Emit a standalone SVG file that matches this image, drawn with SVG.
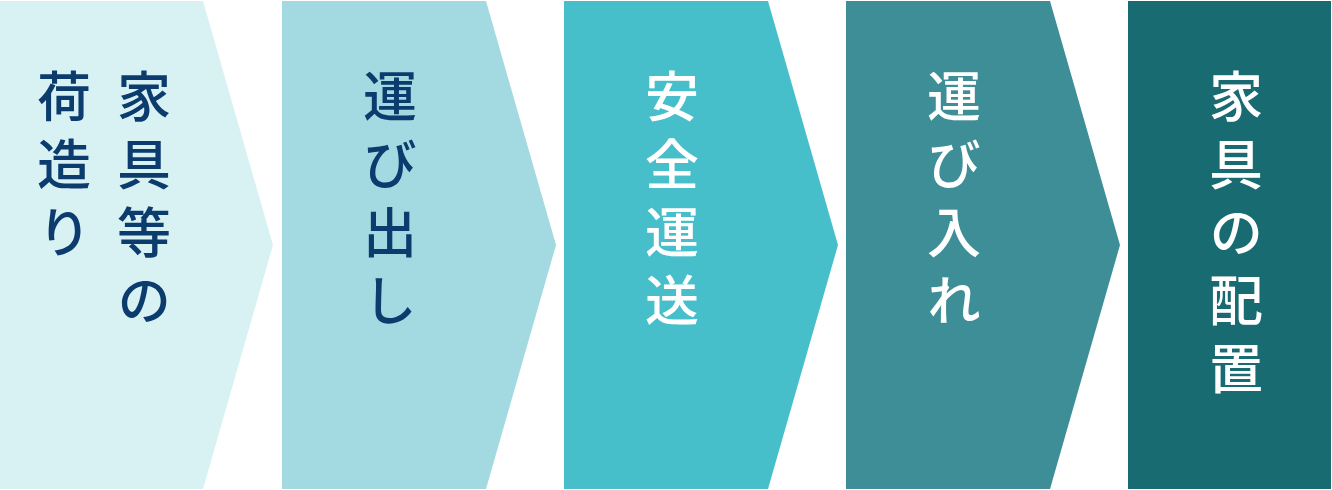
<svg xmlns="http://www.w3.org/2000/svg" width="1332" height="490" viewBox="0 0 1332 490">
<style>
.lbl{font-family:"Noto Sans CJK JP","Noto Sans CJK SC",sans-serif;font-size:54px;font-weight:500;writing-mode:vertical-rl;letter-spacing:14px}
.dark{fill:#0c3b6e}
.light{fill:#ffffff}
</style>
<rect width="1332" height="490" fill="#ffffff"/>
<g id="step1">
<polygon points="0,1 203,1 273,245 203,489 0,489" fill="#d8f2f4"/>
<text class="lbl dark" x="144" y="69">家具等の</text>
<text class="lbl dark" x="64" y="69">荷造り</text>
</g>
<g id="step2">
<polygon points="282,1 486,1 556,245 486,489 282,489" fill="#a3d9e0"/>
<text class="lbl dark" x="390" y="69">運び出し</text>
</g>
<g id="step3">
<polygon points="564,1 768,1 838,245 768,489 564,489" fill="#47bfcb"/>
<text class="lbl light" x="672" y="69">安全運送</text>
</g>
<g id="step4">
<polygon points="846,1 1050,1 1120,245 1050,489 846,489" fill="#3d8e96"/>
<text class="lbl light" x="954" y="69">運び入れ</text>
</g>
<g id="step5">
<rect x="1128" y="1" width="203" height="488" fill="#196b72"/>
<text class="lbl light" x="1236" y="69">家具の配置</text>
</g>
<g id="connectors"></g>
</svg>
